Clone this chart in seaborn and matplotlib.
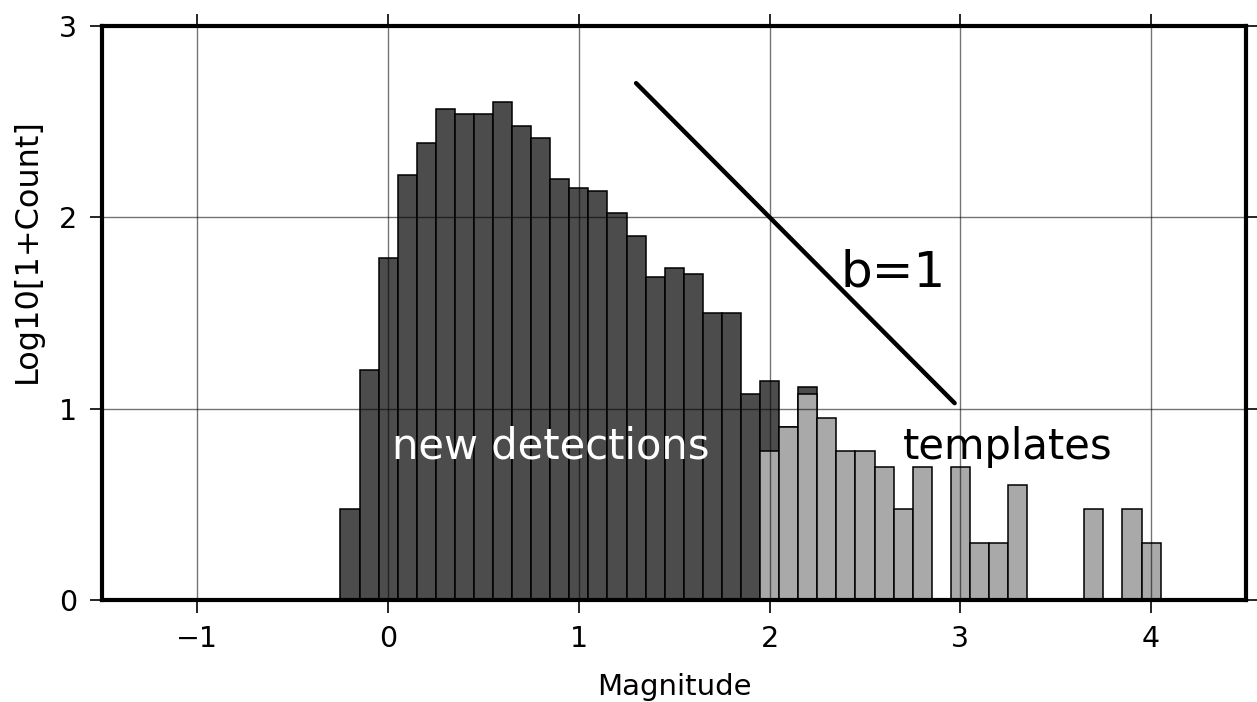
import numpy as np
import pandas as pd
import matplotlib
matplotlib.use("Agg")
import matplotlib.pyplot as plt
import seaborn as sns

# ---- data (log10(1+count) per 0.1-magnitude bin, bin centers) ----
det_mag = [-0.2, -0.1, 0.0, 0.1, 0.2, 0.3, 0.4, 0.5, 0.6, 0.7, 0.8, 0.9,
           1.0, 1.1, 1.2, 1.3, 1.4, 1.5, 1.6, 1.7, 1.8, 1.9, 2.0, 2.1, 2.2]
det_val = [0.477, 1.204, 1.785, 2.220, 2.386, 2.567, 2.538, 2.541, 2.600, 2.477,
           2.415, 2.201, 2.152, 2.137, 2.021, 1.903, 1.686, 1.734, 1.703, 1.502,
           1.502, 1.079, 1.146, 0.903, 1.114]

tpl_mag = [2.0, 2.1, 2.2, 2.3, 2.4, 2.5, 2.6, 2.7, 2.8, 2.9, 3.0, 3.1, 3.2,
           3.3, 3.4, 3.5, 3.6, 3.7, 3.8, 3.9, 4.0]
tpl_val = [0.778, 0.903, 1.079, 0.954, 0.778, 0.778, 0.699, 0.477, 0.699, 0.0,
           0.699, 0.301, 0.301, 0.602, 0.0, 0.0, 0.0, 0.477, 0.0, 0.477, 0.301]

bline_x = [1.3, 2.97]
bline_y = [2.7, 1.03]

x_ticks = [-1, 0, 1, 2, 3, 4]
y_ticks = [0, 1, 2, 3]
x_ticklabels = ["\u22121", "0", "1", "2", "3", "4"]

det = pd.DataFrame({"mag": det_mag, "val": det_val})
tpl = pd.DataFrame({"mag": tpl_mag, "val": tpl_val})

sns.set_theme(style="white")
plt.rcParams["font.family"] = ["DejaVu Sans"]
plt.rcParams["text.color"] = "black"
plt.rcParams["axes.labelcolor"] = "black"
plt.rcParams["xtick.color"] = "black"
plt.rcParams["ytick.color"] = "black"

fig = plt.figure(figsize=(12.57, 7.02), dpi=100)
ax = fig.add_axes([0.0812, 0.1446, 0.9104, 0.8188])

sns.histplot(data=det, x="mag", weights="val", binwidth=0.1,
             binrange=(-0.25, 2.25), ax=ax,
             color="#4c4c4c", edgecolor="black", linewidth=1.1, alpha=1.0,
             zorder=1)
sns.histplot(data=tpl, x="mag", weights="val", binwidth=0.1,
             binrange=(1.95, 4.05), ax=ax,
             color="#a9a9a9", edgecolor="black", linewidth=1.1, alpha=1.0,
             zorder=1.5)

sns.lineplot(x=bline_x, y=bline_y, ax=ax, color="black", linewidth=3.2,
             zorder=4)

ax.set_xlim(-1.5, 4.5)
ax.set_ylim(0, 3)
ax.set_xticks(x_ticks)
ax.set_xticklabels(x_ticklabels)
ax.set_yticks(y_ticks)

ax.set_axisbelow(False)
ax.grid(True, color="black", alpha=0.55, linewidth=1.0, zorder=3)

for s in ax.spines.values():
    s.set_visible(True)
    s.set_linewidth(3.0)
    s.set_color("black")
    s.set_zorder(5)

ax.tick_params(axis="both", which="major", direction="out", length=9,
               width=1.2, color="black", labelcolor="black", labelsize=20.5,
               pad=9, top=True, right=True, bottom=True, left=True,
               labeltop=False, labelright=False)

ax.set_xlabel("Magnitude", fontsize=21, labelpad=14, color="black")
ax.set_ylabel("Log10[1+Count]", fontsize=23, color="black")
ax.yaxis.set_label_coords(-0.052, 0.608)

ax.text(0.02, 0.74, "new detections", color="white", fontsize=30,
        ha="left", va="baseline", zorder=6)
ax.text(2.70, 0.74, "templates", color="black", fontsize=30,
        ha="left", va="baseline", zorder=6)
ax.text(2.37, 1.64, "b=1", color="black", fontsize=36,
        ha="left", va="baseline", zorder=6)

fig.savefig("out.png", dpi=100)
